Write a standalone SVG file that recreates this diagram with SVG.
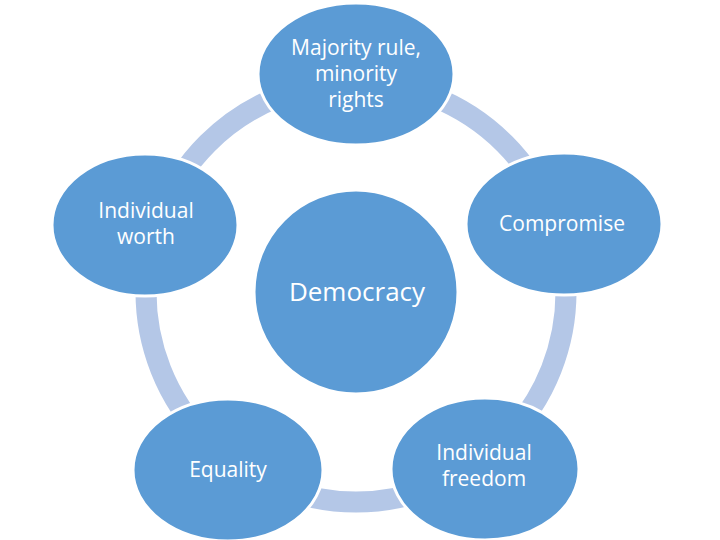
<svg xmlns="http://www.w3.org/2000/svg" width="720" height="540" viewBox="0 0 720 540">
<style>
.node{fill:#5B9BD5;stroke:#FFFFFF;stroke-width:3}
.lbl{font-family:"Open Sans","Liberation Sans",sans-serif;font-size:21px;fill:#FFFFFF;text-anchor:middle}
.big{font-size:26px}
.ring{fill:none;stroke:#B4C7E7;stroke-width:21}
</style>
<rect width="720" height="540" fill="#FFFFFF"/>
<g id="connectors">
<circle class="ring" cx="356" cy="292" r="210"/>
</g>
<g id="center">
<circle class="node" cx="356" cy="292" r="102"/>
<text class="lbl big" x="357" y="301">Democracy</text>
</g>
<g id="majority">
<ellipse class="node" cx="356" cy="74" rx="98" ry="71"/>
<text class="lbl" x="356" y="55">Majority rule,</text>
<text class="lbl" x="356" y="81">minority</text>
<text class="lbl" x="356" y="107">rights</text>
</g>
<g id="compromise">
<ellipse class="node" cx="564" cy="224" rx="98" ry="71"/>
<text class="lbl" x="562" y="231">Compromise</text>
</g>
<g id="freedom">
<ellipse class="node" cx="485" cy="469" rx="94" ry="71"/>
<text class="lbl" x="484" y="460">Individual</text>
<text class="lbl" x="484" y="486">freedom</text>
</g>
<g id="equality">
<ellipse class="node" cx="228" cy="470" rx="95" ry="71"/>
<text class="lbl" x="228" y="477">Equality</text>
</g>
<g id="worth">
<ellipse class="node" cx="145" cy="225" rx="93" ry="71"/>
<text class="lbl" x="146" y="218">Individual</text>
<text class="lbl" x="146" y="244">worth</text>
</g>
</svg>
